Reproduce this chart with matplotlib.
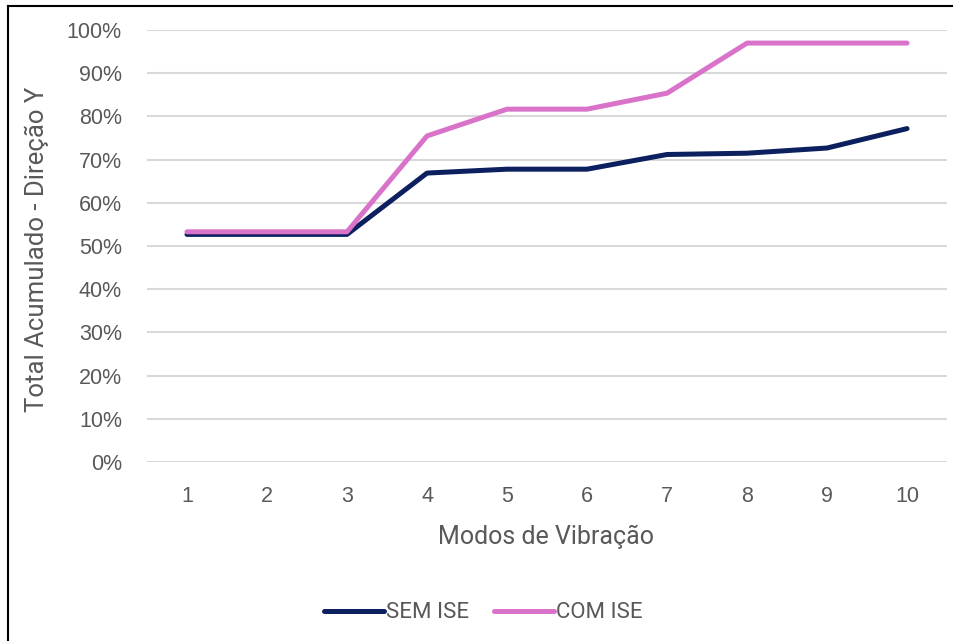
import numpy as np
import matplotlib.pyplot as plt
from matplotlib.lines import Line2D
from matplotlib import font_manager
import matplotlib.ticker as mticker

modos = [1, 2, 3, 4, 5, 6, 7, 8, 9, 10]
sem_ise = [0.527, 0.527, 0.527, 0.669, 0.678, 0.678, 0.712, 0.715, 0.727, 0.772]
com_ise = [0.533, 0.533, 0.533, 0.755, 0.817, 0.817, 0.854, 0.970, 0.970, 0.970]

plt.rcParams['font.family'] = ['Liberation Sans', 'DejaVu Sans']

# condensed font for the y label / legend if there is one
names = {f.name for f in font_manager.fontManager.ttflist}
narrow = 'Liberation Sans Narrow' if 'Liberation Sans Narrow' in names else None

fig = plt.figure(figsize=(9.57, 6.41), dpi=100)
ax = fig.add_axes([0.1536, 0.2793, 0.836, 0.6737])

ax.plot(modos, sem_ise, color='#0c1f5e', lw=3.6, solid_capstyle='round', label='SEM ISE', zorder=3)
ax.plot(modos, com_ise, color='#d973c9', lw=3.6, solid_capstyle='round', label='COM ISE', zorder=4)

ax.set_xlim(0.5, 10.5)
ax.set_ylim(0, 1)
ax.set_xticks(modos)
ax.set_yticks(np.arange(0, 1.01, 0.1))
ax.yaxis.set_major_formatter(mticker.PercentFormatter(1.0, decimals=0))
ax.grid(axis='y', color='#d9d9d9', lw=1.5)
ax.set_axisbelow(True)
for s in ax.spines.values():
    s.set_visible(False)
ax.tick_params(length=0, labelsize=15.5, labelcolor='#595959')
ax.tick_params(axis='y', pad=18)
ax.tick_params(axis='x', pad=17)

if narrow:
    ylab_font = {'family': [narrow, 'DejaVu Sans'], 'size': 22}
    leg_font = {'family': narrow, 'size': 17}
else:
    ylab_font = {'family': ['Roboto', 'DejaVu Sans'], 'size': 18.5}
    leg_font = {'family': 'Roboto', 'size': 16}

fig.text(0.039, 0.6115, 'Total Acumulado - Direção Y', rotation=90, ha='center', va='center',
         color='#595959', fontdict=ylab_font)
fig.text(0.5705, 0.162, 'Modos de Vibração', ha='center', va='center',
         fontsize=18, color='#595959', family=['Roboto', 'DejaVu Sans'])

leg = fig.legend(loc='center', bbox_to_anchor=(0.505, 0.044), ncol=2, frameon=False,
                 handlelength=2.7, handletextpad=0.1, columnspacing=1.1,
                 prop=leg_font)
for t in leg.get_texts():
    t.set_color('#595959')

# chart border (top and left edges visible)
fig.add_artist(Line2D([0.0084, 0.995], [0.991, 0.991], color='black', lw=1.5, transform=fig.transFigure))
fig.add_artist(Line2D([0.0084, 0.0084], [0.0, 0.991], color='black', lw=1.5, transform=fig.transFigure))

fig.savefig('out.png', dpi=100)
